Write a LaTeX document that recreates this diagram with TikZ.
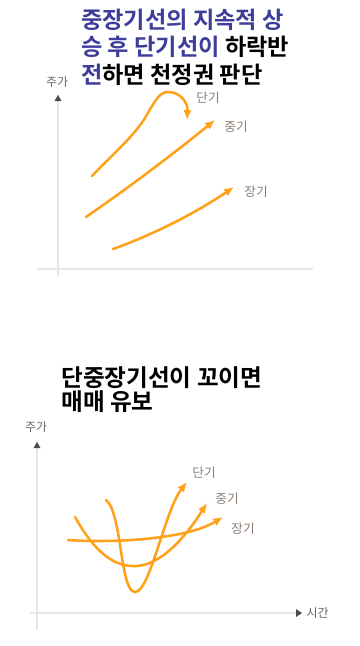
\documentclass[tikz,border=0pt]{standalone}
\usepackage{fontspec}
\setmainfont{Noto Sans CJK KR}
\newfontfamily\krbold{Noto Sans CJK KR Bold}
\usetikzlibrary{arrows.meta}
\definecolor{trend}{HTML}{FFA21A}
\definecolor{titleblue}{HTML}{3D3D9B}
\definecolor{labelbrown}{HTML}{8B7D74}
\definecolor{axisgray}{HTML}{E6E6E6}
\tikzset{
  trendline/.style={trend,line width=1.8pt,line cap=round,-{Latex[length=7pt,width=6pt]}},
  axisline/.style={axisgray,line width=0.9pt},
  curvelabel/.style={labelbrown,font=\fontsize{9}{10}\selectfont,inner sep=1pt},
  axislabel/.style={black!60,font=\fontsize{8.5}{10}\selectfont,inner sep=1pt},
  headline/.style={font=\krbold\fontsize{16.5}{19.3}\selectfont,align=left,anchor=north west,inner sep=0pt}
}
\begin{document}
\begin{tikzpicture}[x=0.025cm,y=-0.025cm]
\useasboundingbox[fill=white] (0,0) rectangle (360,646);

%first chart
\node[headline] (title1) at (81,9) {\textcolor{titleblue}{중장기선의 지속적 상}\\
  \textcolor{titleblue}{승 후 단기선이} 하락반\\
  \textcolor{titleblue}{전}하면 천정권 판단};
\node[axislabel] (price1) at (57,82) {주가};
\coordinate (yt1) at (58,95);
\coordinate (yb1) at (58,276);
\coordinate (xl1) at (37,269);
\coordinate (xr1) at (313,269);
\draw[axisline] (yt1) -- (yb1);
\draw[axisline] (xl1) -- (xr1);
\fill[black!70] (54.5,101) -- (61.5,101) -- (58,95) -- cycle;

\coordinate (s1) at (92,176);
\coordinate (e1) at (187,120);
\coordinate (m1) at (86,217);
\coordinate (f1) at (215,120);
\coordinate (l1) at (113,249);
\coordinate (g1) at (234,187);
\draw[trendline] (s1) .. controls (112,155) and (133,137) .. (145,118)
  .. controls (156,99) and (160,92) .. (168,92)
  .. controls (180,92) and (188,102) .. (e1);
\draw[trendline] (m1) .. controls (128,188) and (172,155) .. (f1);
\draw[trendline] (l1) .. controls (160,232) and (200,210) .. (g1);
\node[curvelabel] (short1) at (208,98) {단기};
\node[curvelabel] (mid1) at (236,127) {중기};
\node[curvelabel] (long1) at (256,192) {장기};

%second chart
\node[headline,font=\krbold\fontsize{16.8}{17.5}\selectfont] (title2) at (61,366) {단중장기선이 꼬이면\\매매 유보};
\node[axislabel] (price2) at (36,427) {주가};
\coordinate (yt2) at (37,442);
\coordinate (yb2) at (37,630);
\coordinate (xl2) at (30,613);
\coordinate (xr2) at (296,613);
\draw[axisline] (yt2) -- (yb2);
\draw[axisline] (xl2) -- (xr2);
\fill[black!70] (33.5,448) -- (40.5,448) -- (37,442) -- cycle;
\fill[black!70] (296,609) -- (296,617) -- (302,613) -- cycle;
\node[axislabel,anchor=west] (time2) at (305,613) {시간};

\coordinate (s2) at (106,500);
\coordinate (e2) at (187,482);
\coordinate (m2) at (75,517);
\coordinate (f2) at (207,503);
\coordinate (l2) at (68,540);
\coordinate (g2) at (223,517);
\draw[trendline] (l2) .. controls (110,543) and (185,540) .. (g2);
\draw[trendline] (m2) .. controls (98,558) and (118,567) .. (137,566)
  .. controls (165,564) and (190,530) .. (f2);
\draw[trendline] (s2) .. controls (122,512) and (120,592) .. (135,592)
  .. controls (150,592) and (165,510) .. (e2);
\node[curvelabel] (short2) at (204,473) {단기};
\node[curvelabel] (mid2) at (227,499) {중기};
\node[curvelabel] (long2) at (243,529) {장기};
\end{tikzpicture}
\end{document}
